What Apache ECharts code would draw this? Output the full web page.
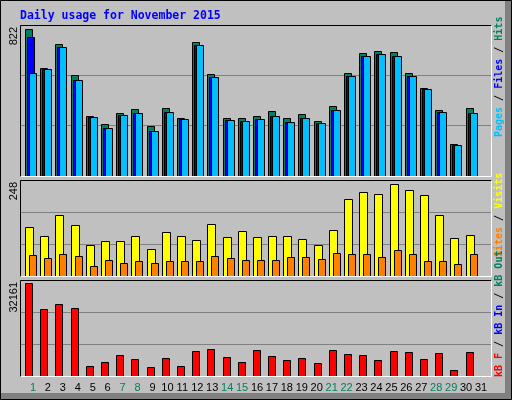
<!DOCTYPE html>
<html><head><meta charset="utf-8">
<script src="https://cdn.jsdelivr.net/npm/echarts@6/dist/echarts.min.js"></script>
<style>html,body{margin:0;padding:0;background:#c0c0c0}#c{width:512px;height:400px}</style>
</head><body><div id="c"></div>
<script>
const days = Array.from({length:31},(_,i)=>String(i+1));
const weekendDays = [1,7,8,14,15,21,22,28,29];
const hits  = [822,607,738,564,335,290,351,374,279,379,323,749,570,323,323,335,362,323,346,306,391,575,688,699,693,575,491,368,178,379];
const files = [777,598,721,536,329,267,340,351,250,357,318,732,553,312,306,318,335,301,323,295,368,559,671,682,671,559,486,357,172,351];
const pages = [575,598,721,536,329,267,340,351,250,357,318,732,553,312,306,318,335,301,323,295,368,559,671,682,671,559,486,357,172,351];
const visits= [132,108,164,137,84,94,94,108,73,119,108,97,140,105,121,105,108,108,100,84,124,208,226,221,248,232,218,164,102,110];
const sites = [57,49,59,54,27,43,35,40,35,40,40,40,54,49,43,43,43,51,51,46,62,59,59,51,70,59,40,40,32,59];
const kbF   = [32161,23360,25130,23720,3640,4700,7160,5750,3290,6110,3640,8570,9280,6460,4700,8920,6810,5400,6110,4340,8920,7520,7160,5400,8570,8220,5750,7870,2230,8220];

const chart = echarts.init(document.getElementById('c'), null, {renderer:'canvas'});
const panels = [{top:25,bottom:176,max:846,iv:282},{top:180,bottom:276,max:258,iv:86},{top:280,bottom:376,max:33300,iv:11100}];
const L=20,R=491;
const grids = panels.map(p=>({left:L,top:p.top,width:R-L,height:p.bottom-p.top}));
grids.push({left:25.5,top:378,width:463,height:1});
const xAxes = [0,1,2].map(i=>({type:'category',gridIndex:i,data:days,show:false}));
xAxes.push({type:'category',gridIndex:3,data:days,axisLine:{show:false},axisTick:{show:false},
  axisLabel:{interval:0,margin:3,fontFamily:'Liberation Sans',fontSize:11,
    color:(v)=>weekendDays.includes(+v)?'#008060':'#000'}});
const yAxes = panels.map((p,i)=>({type:'value',gridIndex:i,min:0,max:p.max,interval:p.iv,
  axisLine:{show:false},axisTick:{show:false},axisLabel:{show:false},
  splitLine:{lineStyle:{color:'#808080',width:1}}}));
yAxes.push({type:'value',gridIndex:3,show:false});

function bars(name,data,gi,off,w,fill,z){
  return {type:'custom',name,xAxisIndex:gi,yAxisIndex:gi,z,data:data.map((v,i)=>[i,v]),
    renderItem:(params,api)=>{
      const c=api.coord([api.value(0),api.value(1)]);
      const b=api.coord([api.value(0),0]);
      const bw=api.size([1,0])[0];
      const x0=Math.round(c[0]-bw/2+off)+0.5;
      return {type:'rect',shape:{x:x0,y:Math.round(c[1])+0.5,width:w,height:Math.round(b[1])-Math.round(c[1])},
        style:{fill,stroke:'#000',lineWidth:1}};
    }};
}
const series=[
  bars('Hits',hits,0,5,7,'#008060',2),
  bars('Files',files,0,7,7,'#0000ff',3),
  bars('Pages',pages,0,9,7,'#00bfff',4),
  bars('Visits',visits,1,5,8,'#ffff00',2),
  bars('Sites',sites,1,9,7,'#ff8000',3),
  bars('kB F',kbF,2,5,7,'#ff0000',2)
];

const g=[];
// outer frame
g.push({type:'rect',shape:{x:505,y:0,width:7,height:400},style:{fill:'#808080'},z:90});
g.push({type:'rect',shape:{x:0,y:393,width:512,height:7},style:{fill:'#808080'},z:90});
g.push({type:'rect',shape:{x:0.5,y:0.5,width:511,height:399},style:{fill:null,stroke:'#000',lineWidth:1},z:91});
panels.forEach(p=>{
  g.push({type:'polyline',shape:{points:[[L,p.bottom+0.5],[L+0.5,p.bottom+0.5],[L+0.5,p.top+0.5],[R+0.5,p.top+0.5]]},style:{stroke:'#000',lineWidth:1},z:95});
  g.push({type:'polyline',shape:{points:[[R+0.5,p.top+0.5],[R+0.5,p.bottom+0.5],[L+0.5,p.bottom+0.5]]},style:{stroke:'#fff',lineWidth:1},z:95});
});
g.push({type:'text',x:20,y:16,z:96,style:{text:'Daily usage for November 2015',fill:'#0000ff',
  font:'bold 11.5px "DejaVu Sans Mono"',verticalAlign:'middle'}});
const maxLabels=['822','248','32161'];
panels.forEach((p,i)=>g.push({type:'text',x:14,y:p.top+2,rotation:Math.PI/2,z:96,
  style:{text:maxLabels[i],fill:'#000',font:'11px "Liberation Sans"',align:'right',verticalAlign:'middle'}}));
const mono='bold 10px "DejaVu Sans Mono"';
function rlabel(y,parts){
  const text=parts.map((p,i)=>'{s'+i+'|'+p[0]+'}').join('');
  const rich={};parts.forEach((p,i)=>rich['s'+i]={fill:p[1],font:mono});
  g.push({type:'text',x:499,y,rotation:Math.PI/2,z:96,style:{text,rich,align:'left',verticalAlign:'middle'}});
}
rlabel(137,[['Pages','#00bfff'],[' / ','#000'],['Files','#0000ff'],[' / ','#000'],['Hits','#008060']]);
rlabel(257,[['Sites','#ff8000'],[' / ','#000'],['Visits','#ffff00']]);
rlabel(377,[['kB F','#ff0000'],[' / ','#000'],['kB In','#0000ff'],[' / ','#000'],['kB Out','#008060']]);

chart.setOption({animation:false,backgroundColor:'#c0c0c0',grid:grids,xAxis:xAxes,yAxis:yAxes,series,graphic:{elements:g}});
</script></body></html>
